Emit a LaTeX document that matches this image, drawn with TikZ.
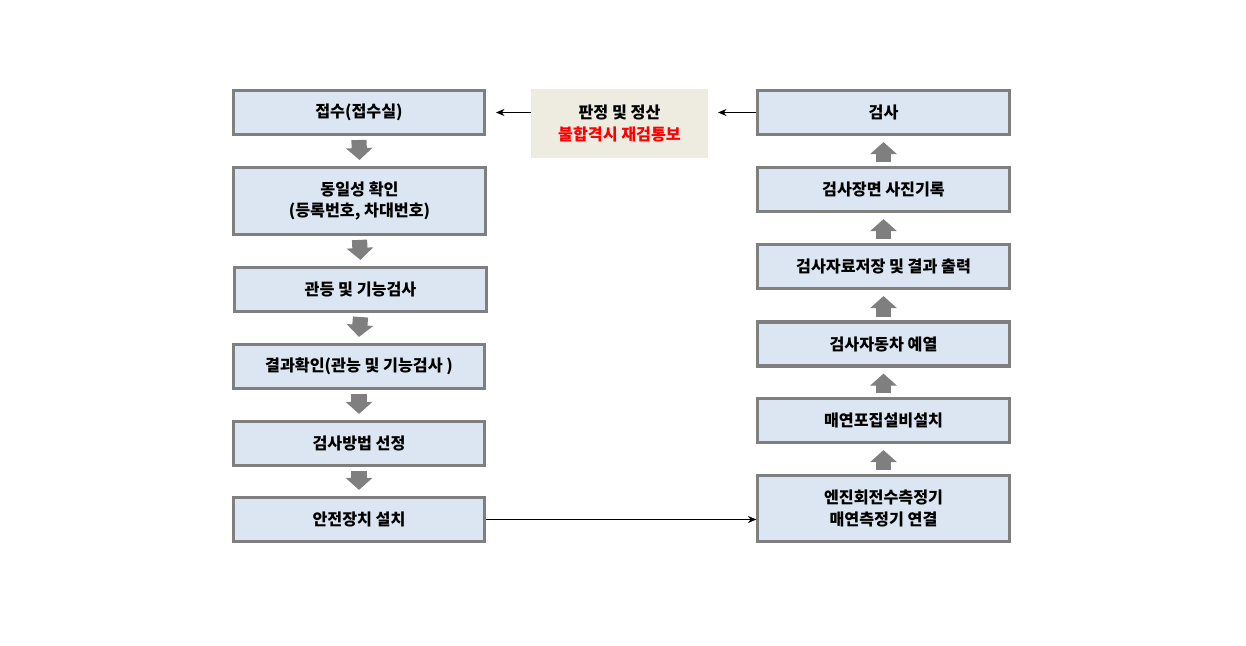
\documentclass[tikz,border=0pt]{standalone}
\usepackage{fontspec}
\setmainfont{Noto Sans CJK KR}
\usetikzlibrary{arrows.meta}
\definecolor{boxfill}{HTML}{DCE6F2}
\definecolor{boxline}{HTML}{7F7F7F}
\definecolor{notefill}{HTML}{EEECE1}
\tikzset{
  stepbox/.style={draw=boxline, line width=2.2pt, fill=boxfill, minimum width=6.28cm,
    minimum height=1.1cm, align=center, inner sep=0pt,
    font=\fontsize{11.5}{15.5}\selectfont\bfseries},
  tallbox/.style={stepbox, minimum height=1.67cm},
  notebox/.style={fill=notefill, minimum width=4.42cm, minimum height=1.72cm, align=center,
    inner sep=0pt, font=\fontsize{11.5}{15.5}\selectfont\bfseries},
  bigarrow/.style={draw=boxline, line width=10.8pt,
    -{Triangle[width=18.5pt,length=8.5pt]}, boxline},
  thinarrow/.style={-{Stealth[length=6pt,width=5pt]}, line width=0.6pt}
}
\begin{document}
\begin{tikzpicture}[x=0.025cm,y=-0.025cm]
\useasboundingbox (0,0) rectangle (1246,645);
% left column
\node[stepbox] (recv) at (359,112.5) {접수(접수실)};
\node[tallbox] (ident) at (359.5,201) {동일성 확인\\(등록번호, 차대번호)};
\node[stepbox] (lamp) at (360.5,289.5) {관등 및 기능검사};
\node[stepbox] (result) at (359,366.5) {결과확인(관능 및 기능검사 )};
\node[stepbox] (method) at (359,443.5) {검사방법 선정};
\node[stepbox] (safety) at (359,519.5) {안전장치 설치};
% right column
\node[stepbox] (insp) at (883.5,112.5) {검사};
\node[stepbox] (photo) at (883.5,189.5) {검사장면 사진기록};
\node[stepbox] (save) at (883.5,266.5) {검사자료저장 및 결과 출력};
\node[stepbox] (warm) at (883.5,344) {검사자동차 예열};
\node[stepbox] (smoke) at (883.5,420.5) {매연포집설비설치};
\node[tallbox] (engine) at (883.5,508.5) {엔진회전수측정기\\매연측정기 연결};
% judgement
\node[notebox] (judge) at (619.5,123.5) {판정 및 정산\\\textcolor{red}{불합격시 재검통보}};
% block arrows
\draw[bigarrow] ([yshift=-2.8pt]recv.south) -- ([yshift=4.3pt]ident.north);
\draw[bigarrow] ([yshift=-2.8pt]ident.south) -- ([yshift=4.3pt]lamp.north);
\draw[bigarrow] ([yshift=-2.8pt]lamp.south) -- ([yshift=4.3pt]result.north);
\draw[bigarrow] ([yshift=-2.8pt]result.south) -- ([yshift=4.3pt]method.north);
\draw[bigarrow] ([yshift=-2.8pt]method.south) -- ([yshift=4.3pt]safety.north);
\draw[bigarrow] ([yshift=2.8pt]engine.north) -- ([yshift=-4.3pt]smoke.south);
\draw[bigarrow] ([yshift=2.8pt]smoke.north) -- ([yshift=-4.3pt]warm.south);
\draw[bigarrow] ([yshift=2.8pt]warm.north) -- ([yshift=-4.3pt]save.south);
\draw[bigarrow] ([yshift=2.8pt]save.north) -- ([yshift=-4.3pt]photo.south);
\draw[bigarrow] ([yshift=2.8pt]photo.north) -- ([yshift=-4.3pt]insp.south);
% thin arrows
\draw[thinarrow] (safety.east) -- (engine.west |- safety.east);
\draw[thinarrow] (insp.west) -- ([xshift=7pt]judge.east |- insp.west);
\draw[thinarrow] (judge.west |- recv.east) -- ([xshift=7pt]recv.east);
\end{tikzpicture}
\end{document}
